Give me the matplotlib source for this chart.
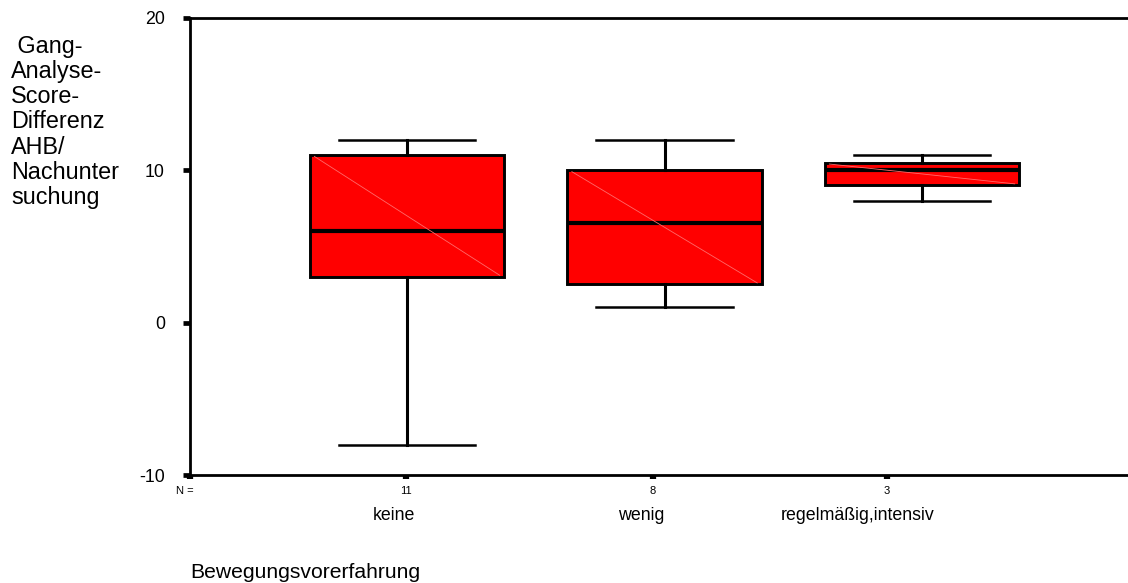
import matplotlib
matplotlib.use("Agg")
import matplotlib.pyplot as plt
import matplotlib.transforms as mtransforms

plt.rcParams['font.family'] = ['Liberation Sans', 'DejaVu Sans']

# box statistics
categories = ["keine", "wenig", "regelmäßig,intensiv"]
counts = [11, 8, 3]
whisker_low = [-8, 1, 8]
q1 = [3, 2.5, 9]
median = [6, 6.5, 10]
q3 = [11, 10, 10.5]
whisker_high = [12, 12, 11]

y_ticks = [-10, 0, 10, 20]
y_label = " Gang-\nAnalyse-\nScore-\nDifferenz\nAHB/\nNachunter\nsuchung"
x_title = "Bewegungsvorerfahrung"

W, H = 1128, 583


def main():
    fig = plt.figure(figsize=(W / 100, H / 100), dpi=100)
    ax = fig.add_axes([190 / W, 1 - 475 / H, (W - 190) / W, (475 - 17.7) / H])

    positions = [1, 2, 3]
    stats = []
    for i in range(len(categories)):
        stats.append({'whislo': whisker_low[i], 'q1': q1[i], 'med': median[i],
                      'q3': q3[i], 'whishi': whisker_high[i], 'fliers': []})

    ax.bxp(stats, positions=positions, widths=0.755, patch_artist=True,
           showfliers=False,
           boxprops=dict(facecolor='#ff0000', edgecolor='black', linewidth=2.1),
           medianprops=dict(color='black', linewidth=3.0, solid_capstyle='butt'),
           whiskerprops=dict(color='black', linewidth=2.2),
           capprops=dict(color='black', linewidth=1.8),
           capwidths=0.53)

    # faint diagonal seen inside the filled boxes
    for p, lo, hi in zip(positions, q1, q3):
        ax.plot([p - 0.36, p + 0.36], [hi - 0.1, lo + 0.1], color='#ff6a6a',
                linewidth=0.6, zorder=2.5)

    ax.set_xlim(0.157, 3.80)
    ax.set_ylim(-10, 20)

    ax.spines['right'].set_visible(False)
    for side in ['left', 'bottom', 'top']:
        ax.spines[side].set_linewidth(2.0)
        ax.spines[side].set_color('black')

    ax.set_yticks(y_ticks)
    ax.set_yticklabels([str(t) for t in y_ticks], fontsize=12.8)
    ax.tick_params(axis='y', direction='out', length=5, width=3.4, pad=13)

    # tick marks on the x axis sit a little left of the boxes
    tick_pos = [0.157, 0.996, 1.955, 2.864]
    ax.set_xticks(tick_pos)
    ax.set_xticklabels([])
    ax.tick_params(axis='x', direction='out', length=3.2, width=4.5)

    trans = mtransforms.blended_transform_factory(ax.transData, fig.transFigure)
    ax.text(0.135, 1 - 494 / H, "N =", transform=trans, ha='center',
            va='baseline', fontsize=8)
    for p, n in zip(tick_pos[1:], counts):
        ax.text(p, 1 - 494 / H, str(n), transform=trans, ha='center',
                va='baseline', fontsize=8)

    label_pos = [0.95, 1.909, 2.748]
    for p, c in zip(label_pos, categories):
        ax.text(p, 1 - 520.5 / H, c, transform=trans, ha='center',
                va='baseline', fontsize=12.8)

    fig.text(190 / W, 1 - 578 / H, x_title, ha='left', va='baseline',
             fontsize=15.2)
    fig.text(11 / W, 1 - 35 / H, y_label, ha='left', va='top', fontsize=16.8,
             linespacing=1.12)

    fig.savefig("out.png", dpi=100)


if __name__ == '__main__':
    main()
